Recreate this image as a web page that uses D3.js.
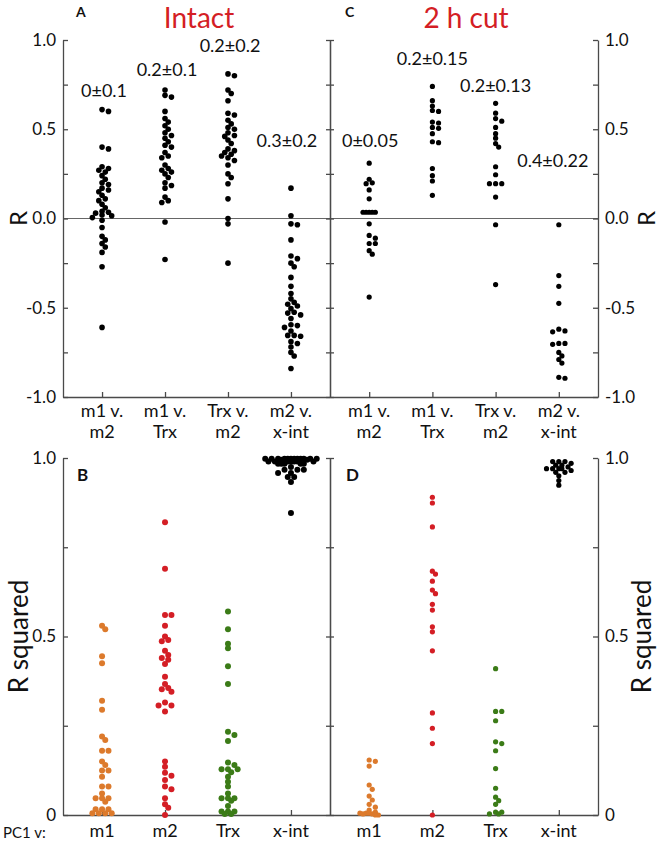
<!DOCTYPE html>
<html><head><meta charset="utf-8">
<script src="https://cdnjs.cloudflare.com/ajax/libs/d3/7.8.5/d3.min.js"></script>
<style>body{margin:0;background:#fff}svg{display:block;font-family:Lato,"Open Sans",sans-serif}</style>
</head><body><svg id="c" width="660" height="854"></svg>
<script>
// ---- data ----
const topCats = [["m1 v.","m2"],["m1 v.","Trx"],["Trx v.","m2"],["m2 v.","x-int"]];
const botCats = ["m1","m2","Trx","x-int"];
const botColors = ["#dc7a2c","#d41e25","#3b7b17","#000000"];
const yTopTicks = [-1,-0.75,-0.5,-0.25,0,0.25,0.5,0.75,1];
const yTopLabels = ["-1.0","","-0.5","","0.0","","0.5","","1.0"];
const yBotTicks = [0,0.25,0.5,0.75,1];
const yBotLabels = ["0","","0.5","","1.0"];
const annotA = ["0±0.1","0.2±0.1","0.2±0.2","0.3±0.2"];
const annotAy = [0.68, 0.8, 0.93, 0.4];
const annotC = ["0±0.05","0.2±0.15","0.2±0.13","0.4±0.22"];
const annotCy = [0.4, 0.86, 0.71, 0.29];

const A_m1m2 = [0.61,0.6,0.40,0.39,0.29,0.28,0.27,0.26,0.24,0.22,0.2,0.19,0.17,0.16,0.15,0.13,0.11,0.1,0.08,0.06,0.04,0.035,0.03,0.02,0.015,0.005,-0.01,-0.05,-0.1,-0.12,-0.14,-0.16,-0.19,-0.27,-0.61];
const A_m1Trx = [0.72,0.69,0.68,0.6,0.56,0.54,0.52,0.5,0.48,0.465,0.45,0.43,0.41,0.40,0.37,0.35,0.34,0.3,0.28,0.27,0.26,0.25,0.23,0.2,0.185,0.17,0.12,0.10,0.09,-0.02,-0.23];
const A_TrxM2 = [0.81,0.80,0.72,0.70,0.66,0.59,0.58,0.55,0.53,0.51,0.5,0.48,0.465,0.46,0.44,0.42,0.39,0.38,0.37,0.36,0.35,0.34,0.325,0.3,0.25,0.23,0.195,0.11,0.0,-0.03,-0.25];
const A_m2xint = [0.17,0.015,-0.03,-0.035,-0.12,-0.21,-0.225,-0.25,-0.27,-0.33,-0.38,-0.42,-0.45,-0.47,-0.48,-0.49,-0.505,-0.525,-0.53,-0.54,-0.56,-0.595,-0.6,-0.61,-0.63,-0.655,-0.655,-0.66,-0.69,-0.70,-0.72,-0.75,-0.77,-0.84];
const C_m1m2 = [0.31,0.22,0.20,0.195,0.16,0.11,0.035,0.035,0.035,0.035,0.035,-0.03,-0.095,-0.11,-0.14,-0.14,-0.18,-0.2,-0.44];
const C_m1Trx = [0.74,0.66,0.63,0.605,0.6,0.54,0.535,0.51,0.505,0.475,0.43,0.425,0.28,0.24,0.21,0.13];
const C_TrxM2 = [0.645,0.59,0.56,0.545,0.51,0.475,0.45,0.42,0.40,0.29,0.245,0.195,0.195,0.195,0.12,-0.035,-0.37];
const C_m2xint = [-0.035,-0.32,-0.38,-0.475,-0.62,-0.63,-0.635,-0.70,-0.70,-0.705,-0.75,-0.77,-0.79,-0.81,-0.89,-0.895];
const B_m1 = [0.53,0.52,0.445,0.425,0.32,0.295,0.22,0.21,0.18,0.18,0.15,0.14,0.125,0.125,0.107,0.08,0.08,0.06,0.047,0.047,0.047,0.037,0.016,0.016,0.016,0.005,0.005,0.005,0.005];
const B_m2 = [0.82,0.69,0.56,0.56,0.53,0.50,0.49,0.487,0.46,0.448,0.44,0.435,0.423,0.387,0.367,0.356,0.352,0.345,0.315,0.307,0.307,0.29,0.15,0.135,0.118,0.11,0.098,0.08,0.072,0.047,0.03,0.02,0.0];
const B_trx = [0.57,0.52,0.48,0.467,0.417,0.367,0.233,0.224,0.207,0.147,0.14,0.128,0.128,0.128,0.12,0.107,0.093,0.08,0.06,0.047,0.047,0.047,0.04,0.025,0.01,0.01,0.01,0.003,0.003];
const B_xint = [0.998,0.998,0.998,0.998,0.998,0.998,0.998,0.998,0.998,0.998,0.998,0.998,0.995,0.995,0.99,0.99,0.99,0.99,0.99,0.99,0.99,0.984,0.984,0.984,0.984,0.984,0.975,0.967,0.967,0.967,0.958,0.958,0.947,0.947,0.933,0.846];
const D_m1 = [0.154,0.15,0.137,0.084,0.072,0.053,0.042,0.03,0.022,0.014,0.008,0.005,0.005,0.005,0.003,0.003,0.0,0.0];
const D_m2 = [0.89,0.874,0.807,0.683,0.675,0.655,0.63,0.62,0.59,0.574,0.527,0.513,0.46,0.286,0.243,0.2,0.0];
const D_trx = [0.41,0.29,0.29,0.264,0.205,0.2,0.18,0.13,0.075,0.05,0.04,0.03,0.008,0.008,0.003,0.003];
const D_xint = [0.99,0.99,0.99,0.985,0.98,0.98,0.975,0.97,0.97,0.97,0.97,0.965,0.96,0.96,0.95,0.937,0.924];

// ---- layout ----
const svg = d3.select("#c");
const AXC = "#4a4a4a";
const xL = d3.scaleLinear().domain([0.38,4.62]).range([63,330]);
const xR = d3.scaleLinear().domain([0.38,4.62]).range([330,598]);
const yT = d3.scaleLinear().domain([-1,1]).range([397,40]);
const yB = d3.scaleLinear().domain([0,1]).range([815,458]);

// compact beeswarm with a maximum half-width (points overlap when crowded)
function swarm(values, cx, y, gap, maxW) {
  const pts = values.map(v => ({v, y: y(v)})).sort((a,b) => a.y - b.y);
  const placed = [];
  const step = gap * 0.7;
  const nK = 2 * Math.floor(maxW / step);
  pts.forEach(p => {
    let best = null, bestD = -1;
    for (let k = 0; k <= nK; k++) {
      const off = k === 0 ? 0 : (k % 2 ? 1 : -1) * Math.ceil(k/2) * step;
      const x = cx + off;
      const dmin = placed.length ? d3.min(placed, q => Math.hypot(q.x - x, q.y - p.y)) : Infinity;
      if (dmin >= gap) { best = x; break; }
      if (dmin > bestD + 0.8) { bestD = dmin; best = x; }
    }
    p.x = best;
    placed.push(p);
  });
  return placed;
}
function drawDots(arr, x, y, r, gap, maxWs, color) {
  arr.forEach((vals, i) => {
    const pts = swarm(vals, x(i+1), y, gap, maxWs[i]);
    svg.append("g").selectAll("circle").data(pts).join("circle")
      .attr("cx", d => d.x).attr("cy", d => d.y).attr("r", r)
      .attr("fill", Array.isArray(color) ? color[i] : color);
  });
}
function styleAxis(g) {
  g.selectAll("path,line").attr("stroke", AXC).attr("stroke-width", 1.3);
  g.selectAll("text").attr("fill", "#111").attr("font-size", 17).attr("font-family", "Lato, sans-serif");
}

// zero line
svg.append("line").attr("x1", 63).attr("x2", 598).attr("y1", yT(0)).attr("y2", yT(0))
  .attr("stroke", "#666").attr("stroke-width", 1.2);

// top axes
svg.append("g").attr("transform","translate(63,0)")
  .call(d3.axisLeft(yT).tickValues(yTopTicks).tickFormat((d,i)=>yTopLabels[i]).tickSizeInner(-5).tickSizeOuter(0).tickPadding(7)).call(styleAxis);
[d3.axisLeft, d3.axisRight].forEach(f => svg.append("g").attr("transform","translate(330,0)")
  .call(f(yT).tickValues(yTopTicks).tickFormat("").tickSize(4).tickSizeOuter(0)).call(styleAxis));
svg.append("g").attr("transform","translate(598,0)")
  .call(d3.axisRight(yT).tickValues(yTopTicks).tickFormat((d,i)=>yTopLabels[i]).tickSizeInner(-5).tickSizeOuter(0).tickPadding(7)).call(styleAxis);
[xL, xR].forEach(x => svg.append("g").attr("transform","translate(0,397)")
  .call(d3.axisBottom(x).tickValues([1,2,3,4]).tickFormat("").tickSizeInner(-5).tickSizeOuter(0)).call(styleAxis));

// bottom axes
svg.append("g").attr("transform","translate(63,0)")
  .call(d3.axisLeft(yB).tickValues(yBotTicks).tickFormat((d,i)=>yBotLabels[i]).tickSizeInner(-5).tickSizeOuter(0).tickPadding(7)).call(styleAxis);
[d3.axisLeft, d3.axisRight].forEach(f => svg.append("g").attr("transform","translate(330,0)")
  .call(f(yB).tickValues(yBotTicks).tickFormat("").tickSize(4).tickSizeOuter(0)).call(styleAxis));
svg.append("g").attr("transform","translate(598,0)")
  .call(d3.axisRight(yB).tickValues(yBotTicks).tickFormat((d,i)=>yBotLabels[i]).tickSizeInner(-5).tickSizeOuter(0).tickPadding(7)).call(styleAxis);
[xL, xR].forEach(x => svg.append("g").attr("transform","translate(0,815)")
  .call(d3.axisBottom(x).tickValues([1,2,3,4]).tickFormat("").tickSizeInner(-5).tickSizeOuter(0)).call(styleAxis));

// dots
drawDots([A_m1m2, A_m1Trx, A_TrxM2, A_m2xint], xL, yT, 2.8, 4.6, [10,10,10,10], "#000");
drawDots([C_m1m2, C_m1Trx, C_TrxM2, C_m2xint], xR, yT, 2.6, 4.4, [10,8,8,8], "#000");
drawDots([B_m1, B_m2, B_trx, B_xint], xL, yB, 3, 4.6, [11,9,11,28], botColors);
drawDots([D_m1, D_m2, D_trx, D_xint], xR, yB, 2.6, 4.4, [10,6,8,13], botColors);

// texts
const T = (x, y, s, o={}) => svg.append("text").attr("x", x).attr("y", y).text(s)
  .attr("font-size", o.size || 18).attr("fill", o.fill || "#111")
  .attr("font-weight", o.weight || "normal").attr("text-anchor", o.anchor || "middle")
  .attr("transform", o.rot ? `rotate(-90,${x},${y})` : null);

T(76, 17, "A", {size: 14, weight: "bold", anchor: "start"});
T(345, 17, "C", {size: 14, weight: "bold", anchor: "start"});
T(199, 28, "Intact", {size: 28, fill: "#d41e25"});
T(466, 28, "2 h cut", {size: 28, fill: "#d41e25"});
T(77, 481, "B", {size: 17, weight: "bold", anchor: "start"});
T(346, 481, "D", {size: 17, weight: "bold", anchor: "start"});

annotA.forEach((s,i) => T(xL(i+1)+ (i===3?-4:2), yT(annotAy[i]), s, {size: 18}));
annotC.forEach((s,i) => T(xR(i+1)+ (i===0?1:(i===3?-6:0)), yT(annotCy[i]), s, {size: 18}));

topCats.forEach((c,i) => {
  [xL, xR].forEach(x => { T(x(i+1), 417, c[0]); T(x(i+1), 438, c[1]); });
});
botCats.forEach((c,i) => { [xL, xR].forEach(x => T(x(i+1), 837, c)); });
T(3, 838, "PC1 v:", {size: 15, anchor: "start"});

T(27, yT(0), "R", {size: 24, rot: true});
T(655, yT(0), "R", {size: 24, rot: true});
T(28, yB(0.5), "R squared", {size: 26, rot: true});
T(651, yB(0.5), "R squared", {size: 26, rot: true});
</script></body></html>
